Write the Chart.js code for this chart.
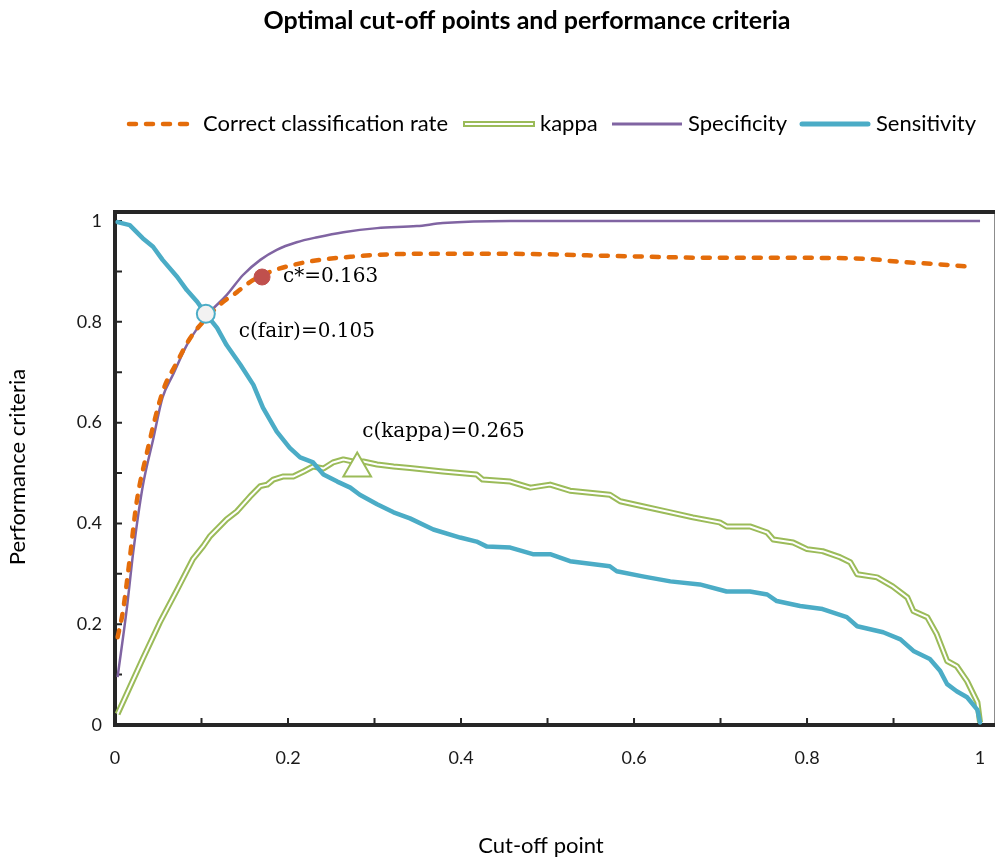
<!DOCTYPE html>
<html>
<head>
<meta charset="utf-8">
<script src="https://cdn.jsdelivr.net/npm/chart.js@4.4.1/dist/chart.umd.min.js"></script>
<style>
  html, body { margin: 0; padding: 0; background: #fff; }
  #wrap { width: 996px; height: 859px; }
</style>
</head>
<body>
<div id="wrap"><canvas id="chart" width="996" height="859"></canvas></div>
<script>
// tick values
const xTicks = [0, 0.2, 0.4, 0.6, 0.8, 1];
const yTicks = [0, 0.2, 0.4, 0.6, 0.8, 1];
const minorTicks = [0, 0.1, 0.2, 0.3, 0.4, 0.5, 0.6, 0.7, 0.8, 0.9, 1];

// Correct classification rate
const ccrX = [0.003, 0.009, 0.017, 0.025, 0.037, 0.055, 0.072, 0.087, 0.106, 0.121, 0.141, 0.156, 0.179, 0.206, 0.237, 0.272, 0.303, 0.349, 0.457, 0.572, 0.699, 0.792, 0.869, 0.908, 0.946, 0.992];
const ccrY = [0.174, 0.224, 0.329, 0.442, 0.541, 0.661, 0.721, 0.768, 0.808, 0.834, 0.859, 0.879, 0.899, 0.913, 0.923, 0.929, 0.933, 0.935, 0.935, 0.931, 0.927, 0.927, 0.925, 0.919, 0.915, 0.909];

// kappa
const kappaX = [0.003, 0.032, 0.052, 0.072, 0.090, 0.102, 0.110, 0.129, 0.141, 0.156, 0.168, 0.176, 0.183, 0.194, 0.206, 0.218, 0.229, 0.241, 0.252, 0.264, 0.275, 0.287, 0.303, 0.322, 0.341, 0.379, 0.418, 0.425, 0.457, 0.480, 0.503, 0.526, 0.572, 0.584, 0.610, 0.642, 0.668, 0.699, 0.707, 0.734, 0.754, 0.761, 0.784, 0.800, 0.818, 0.838, 0.850, 0.858, 0.881, 0.899, 0.916, 0.923, 0.939, 0.950, 0.962, 0.973, 0.985, 0.997, 1.000];
const kappaY = [0.022, 0.131, 0.204, 0.269, 0.329, 0.355, 0.375, 0.408, 0.424, 0.453, 0.474, 0.477, 0.487, 0.493, 0.493, 0.503, 0.513, 0.509, 0.521, 0.527, 0.523, 0.523, 0.517, 0.513, 0.510, 0.503, 0.497, 0.487, 0.483, 0.471, 0.477, 0.465, 0.457, 0.444, 0.434, 0.422, 0.412, 0.402, 0.394, 0.394, 0.382, 0.368, 0.362, 0.349, 0.345, 0.333, 0.323, 0.299, 0.293, 0.275, 0.253, 0.226, 0.214, 0.180, 0.127, 0.117, 0.087, 0.045, 0.005];

// Specificity
const specX = [0.003, 0.014, 0.021, 0.032, 0.044, 0.055, 0.067, 0.083, 0.098, 0.110, 0.129, 0.148, 0.168, 0.187, 0.210, 0.234, 0.264, 0.303, 0.349, 0.379, 0.457, 0.6, 0.8, 1.0];
const specY = [0.095, 0.236, 0.342, 0.473, 0.566, 0.650, 0.695, 0.754, 0.794, 0.820, 0.853, 0.893, 0.923, 0.943, 0.958, 0.968, 0.978, 0.986, 0.990, 0.996, 1.0, 1.0, 1.0, 1.0];

// Sensitivity
const sensX = [0.003, 0.017, 0.032, 0.044, 0.055, 0.072, 0.083, 0.095, 0.104, 0.118, 0.129, 0.145, 0.160, 0.171, 0.187, 0.202, 0.214, 0.229, 0.241, 0.257, 0.272, 0.283, 0.303, 0.322, 0.341, 0.368, 0.399, 0.418, 0.430, 0.457, 0.483, 0.503, 0.526, 0.572, 0.580, 0.610, 0.642, 0.676, 0.707, 0.734, 0.754, 0.765, 0.792, 0.818, 0.846, 0.858, 0.888, 0.908, 0.923, 0.942, 0.954, 0.962, 0.973, 0.985, 0.997, 1.000];
const sensY = [0.998, 0.992, 0.966, 0.949, 0.923, 0.889, 0.863, 0.840, 0.818, 0.788, 0.754, 0.715, 0.675, 0.630, 0.582, 0.550, 0.531, 0.521, 0.497, 0.483, 0.471, 0.457, 0.438, 0.422, 0.410, 0.388, 0.372, 0.364, 0.354, 0.352, 0.339, 0.339, 0.325, 0.315, 0.305, 0.295, 0.285, 0.279, 0.265, 0.265, 0.259, 0.246, 0.236, 0.230, 0.214, 0.196, 0.184, 0.170, 0.147, 0.131, 0.107, 0.081, 0.067, 0.055, 0.030, 0.005];

// optimal cut-off markers
const markerLabels = ['c*=0.163', 'c(fair)=0.105', 'c(kappa)=0.265'];
const markerX = [0.170, 0.105, 0.280];
const markerY = [0.889, 0.816, 0.509];

const ORANGE = '#e46c0a';
const GREEN = '#9bbb59';
const PURPLE = '#8064a2';
const BLUE = '#4bacc6';
const RED = '#c0504d';
const SANS = 'Lato, sans-serif';
const SERIF = '"DejaVu Serif", serif';

const pts = (xs, ys) => xs.map((x, i) => ({ x: x, y: ys[i] }));

// frame + inside tick marks, drawn under the lines
const framePlugin = {
  id: 'frame',
  beforeDatasetsDraw(chart) {
    const { ctx, chartArea: a, scales } = chart;
    ctx.save();
    ctx.strokeStyle = '#8c8c8c';
    ctx.lineWidth = 1;
    ctx.strokeRect(a.left, a.top, a.right - a.left - 0.5, a.bottom - a.top);

    ctx.strokeStyle = '#262626';
    ctx.lineWidth = 4;
    ctx.beginPath();
    ctx.moveTo(a.left, a.top); ctx.lineTo(a.right, a.top);
    ctx.moveTo(a.left, a.top - 2); ctx.lineTo(a.left, a.bottom + 2);
    ctx.moveTo(a.left - 2, a.bottom); ctx.lineTo(a.right, a.bottom);
    ctx.stroke();

    ctx.lineWidth = 2;
    ctx.beginPath();
    minorTicks.forEach(v => {
      const px = scales.x.getPixelForValue(v);
      ctx.moveTo(px, a.bottom); ctx.lineTo(px, a.bottom - 7);
      const py = scales.y.getPixelForValue(v);
      ctx.moveTo(a.left, py); ctx.lineTo(a.left + 7, py);
    });
    ctx.stroke();
    ctx.restore();
  }
};

// title, legend, axis titles and marker labels
const textPlugin = {
  id: 'texts',
  afterDraw(chart) {
    const { ctx } = chart;
    ctx.save();
    ctx.fillStyle = '#000';
    ctx.textBaseline = 'middle';

    ctx.font = 'bold 25px ' + SANS;
    ctx.textAlign = 'center';
    ctx.fillText('Optimal cut-off points and performance criteria', 527, 21);

    // legend
    const ly = 124;
    ctx.lineCap = 'round';
    ctx.strokeStyle = ORANGE; ctx.lineWidth = 4.5; ctx.setLineDash([7, 10]);
    ctx.beginPath(); ctx.moveTo(129, ly); ctx.lineTo(192, ly); ctx.stroke();
    ctx.setLineDash([]);
    ctx.lineCap = 'butt';
    ctx.strokeStyle = GREEN; ctx.lineWidth = 6;
    ctx.beginPath(); ctx.moveTo(463, ly); ctx.lineTo(535, ly); ctx.stroke();
    ctx.strokeStyle = '#fff'; ctx.lineWidth = 2;
    ctx.beginPath(); ctx.moveTo(465, ly); ctx.lineTo(533, ly); ctx.stroke();
    ctx.strokeStyle = PURPLE; ctx.lineWidth = 3;
    ctx.beginPath(); ctx.moveTo(612, ly); ctx.lineTo(682, ly); ctx.stroke();
    ctx.lineCap = 'round';
    ctx.strokeStyle = BLUE; ctx.lineWidth = 5;
    ctx.beginPath(); ctx.moveTo(802, ly); ctx.lineTo(868, ly); ctx.stroke();

    ctx.font = '22px ' + SANS;
    ctx.textAlign = 'left';
    ctx.fillText('Correct classification rate', 203, ly);
    ctx.fillText('kappa', 540, ly);
    ctx.fillText('Specificity', 688, ly);
    ctx.fillText('Sensitivity', 876, ly);

    // axis titles
    ctx.textAlign = 'center';
    ctx.fillText('Cut-off point', 541, 846);
    ctx.save();
    ctx.translate(18, 467);
    ctx.rotate(-Math.PI / 2);
    ctx.fillText('Performance criteria', 0, 0);
    ctx.restore();

    // marker labels
    const offs = [[21, 0], [33, 18], [5, -37]];
    const meta = chart.getDatasetMeta(0);
    ctx.font = '20px ' + SERIF;
    ctx.textAlign = 'left';
    meta.data.forEach((el, i) => {
      ctx.fillText(markerLabels[i], el.x + offs[i][0], el.y + offs[i][1]);
    });
    ctx.restore();
  }
};

new Chart(document.getElementById('chart'), {
  type: 'line',
  data: {
    datasets: [
      {
        label: 'markers',
        data: pts(markerX, markerY),
        showLine: false,
        pointStyle: ['circle', 'circle', 'triangle'],
        pointRadius: [8, 9, 16],
        pointBackgroundColor: [RED, '#f2f2f2', '#ffffff'],
        pointBorderColor: [RED, BLUE, GREEN],
        pointBorderWidth: [1, 2, 2],
        order: 0,
        clip: false
      },
      {
        label: 'Sensitivity',
        data: pts(sensX, sensY),
        borderColor: BLUE,
        borderWidth: 4.5,
        borderCapStyle: 'round',
        borderJoinStyle: 'round',
        pointRadius: 0,
        tension: 0,
        order: 1,
        clip: false
      },
      {
        label: 'Correct classification rate',
        data: pts(ccrX, ccrY),
        borderColor: ORANGE,
        borderWidth: 4.5,
        borderDash: [7, 10],
        borderCapStyle: 'round',
        pointRadius: 0,
        cubicInterpolationMode: 'monotone',
        order: 2,
        clip: false
      },
      {
        label: 'Specificity',
        data: pts(specX, specY),
        borderColor: PURPLE,
        borderWidth: 2.5,
        pointRadius: 0,
        cubicInterpolationMode: 'monotone',
        order: 3,
        clip: false
      },
      {
        label: 'kappa inner',
        data: pts(kappaX, kappaY),
        borderColor: '#ffffff',
        borderWidth: 2,
        borderJoinStyle: 'round',
        pointRadius: 0,
        tension: 0,
        order: 4,
        clip: false
      },
      {
        label: 'kappa',
        data: pts(kappaX, kappaY),
        borderColor: GREEN,
        borderWidth: 6,
        borderJoinStyle: 'round',
        pointRadius: 0,
        tension: 0,
        order: 5,
        clip: false
      }
    ]
  },
  options: {
    responsive: false,
    animation: false,
    layout: { autoPadding: false, padding: { top: 212, right: 1, left: 0, bottom: 0 } },
    plugins: {
      legend: { display: false },
      title: { display: false },
      tooltip: { enabled: false }
    },
    scales: {
      x: {
        type: 'linear',
        min: 0,
        max: 1.0173,
        grid: { display: false, drawTicks: true, tickLength: 22 },
        border: { display: false },
        afterBuildTicks: s => { s.ticks = xTicks.map(v => ({ value: v })); },
        afterFit: s => { s.height = 134; },
        ticks: {
          padding: 0,
          color: '#1a1a1a',
          font: { family: SANS, size: 18 },
          callback: v => String(v)
        }
      },
      y: {
        type: 'linear',
        min: 0,
        max: 1.018,
        grid: { display: false, drawTicks: true, tickLength: 13 },
        border: { display: false },
        afterBuildTicks: s => { s.ticks = yTicks.map(v => ({ value: v })); },
        afterFit: s => { s.width = 115; },
        ticks: {
          padding: 0,
          color: '#1a1a1a',
          font: { family: SANS, size: 18 },
          callback: v => String(v)
        }
      }
    }
  },
  plugins: [framePlugin, textPlugin]
});
</script>
</body>
</html>
